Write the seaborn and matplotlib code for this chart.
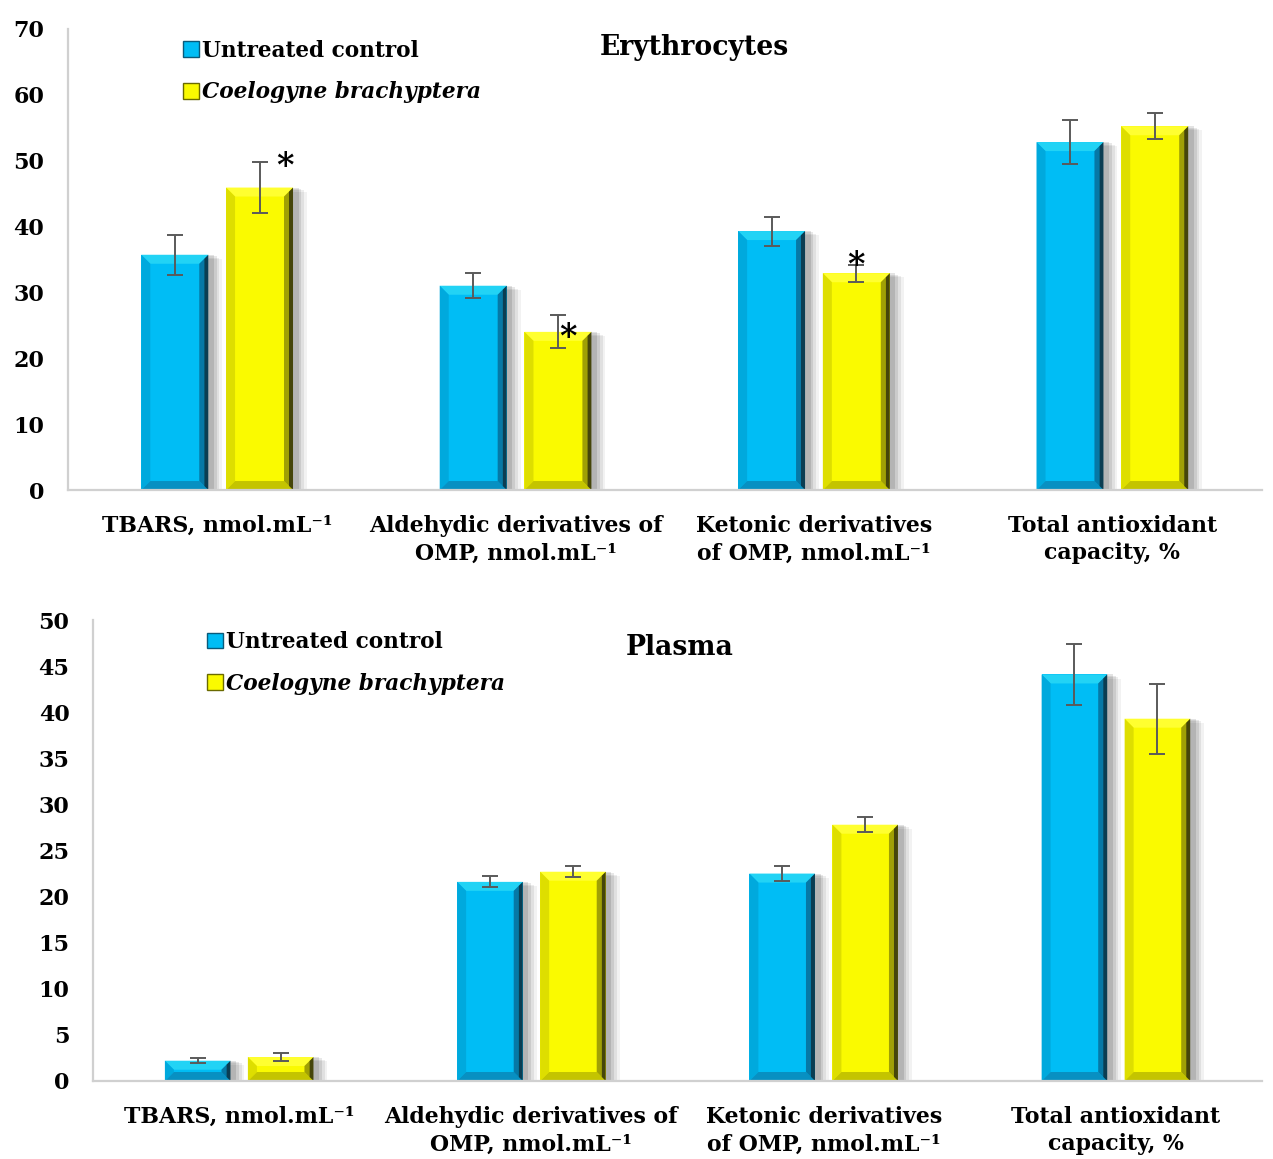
import numpy as np
import pandas as pd
import matplotlib
matplotlib.use("Agg")
import matplotlib.pyplot as plt
import matplotlib.patheffects as pe
from matplotlib.patches import Polygon, Patch
import seaborn as sns

# ---- data -------------------------------------------------------------
SUP = "\u207b\u00b9"
categories = [
    "TBARS, nmol.mL" + SUP,
    "Aldehydic derivatives of\nOMP, nmol.mL" + SUP,
    "Ketonic derivatives\nof OMP, nmol.mL" + SUP,
    "Total antioxidant\ncapacity, %",
]
groups = ["Untreated control", "Coelogyne brachyptera"]

ery_control = [35.7, 31.0, 39.3, 52.8]
ery_control_err = [3.0, 1.9, 2.2, 3.4]
ery_treated = [45.9, 24.0, 32.9, 55.2]
ery_treated_err = [3.9, 2.5, 1.3, 2.0]
ery_significant = [0, 1, 2]          # categories with * on the treated bar

pla_control = [2.2, 21.6, 22.5, 44.1]
pla_control_err = [0.25, 0.6, 0.85, 3.3]
pla_treated = [2.6, 22.7, 27.8, 39.3]
pla_treated_err = [0.45, 0.6, 0.8, 3.8]
pla_significant = []

ery_ticks = [0, 10, 20, 30, 40, 50, 60, 70]
pla_ticks = [0, 5, 10, 15, 20, 25, 30, 35, 40, 45, 50]

# ---- style ------------------------------------------------------------
sns.set_theme(style="white")
plt.rcParams["font.family"] = ["DejaVu Serif"]
plt.rcParams["font.weight"] = "bold"
plt.rcParams["text.color"] = "black"
plt.rcParams["xtick.color"] = "black"
plt.rcParams["ytick.color"] = "black"

BLUE = "#00bdf5"
YELLOW = "#fafa00"
palette = {groups[0]: BLUE, groups[1]: YELLOW}
shade = {
    BLUE: dict(top="#22d3f5", left="#00a9dd", right_in="#0678a6",
               right_out="#0b3d52", bottom="#0890c2"),
    YELLOW: dict(top="#ffff30", left="#dede00", right_in="#a0a005",
                 right_out="#45450a", bottom="#c4c400"),
}
AXIS_GREY = "#d0d0d0"
XFS = 15.8
YFS = 16
LFS = 15.6
TFS = 19.2


def tidy(ctrl, trt):
    return pd.DataFrame({
        "category": categories * 2,
        "group": [groups[0]] * 4 + [groups[1]] * 4,
        "value": list(ctrl) + list(trt),
    })


def bevel_bars(ax, ymax):
    """Give every bar a bevelled, softly shadowed look."""
    bbox = ax.get_window_extent()
    px_x = bbox.width / 4.0
    px_y = bbox.height / ymax
    bev = 9.0
    for patch in list(ax.patches):
        x0, w, h = patch.get_x(), patch.get_width(), patch.get_height()
        fc = BLUE if np.allclose(patch.get_facecolor()[:3],
                                 matplotlib.colors.to_rgb(BLUE)) else YELLOW
        s = shade[fc]
        dx = bev / px_x
        dy = min(bev / px_y, h / 2.0)
        x1 = x0 + w
        patch.set_path_effects([
            pe.SimplePatchShadow(offset=(10, -3), shadow_rgbFace="#000000", alpha=0.05),
            pe.SimplePatchShadow(offset=(8, -2), shadow_rgbFace="#000000", alpha=0.07),
            pe.SimplePatchShadow(offset=(6, -1), shadow_rgbFace="#000000", alpha=0.09),
            pe.SimplePatchShadow(offset=(4, 0), shadow_rgbFace="#000000", alpha=0.11),
            pe.Normal(),
        ])
        patch.set_edgecolor("none")
        xm = x1 - dx * 0.45
        polys = [
            ([(x0, h), (x1, h), (x1 - dx, h - dy), (x0 + dx, h - dy)], s["top"]),
            ([(x0, 0), (x0, h), (x0 + dx, h - dy), (x0 + dx, dy)], s["left"]),
            ([(x0, 0), (x1, 0), (x1 - dx, dy), (x0 + dx, dy)], s["bottom"]),
            ([(x1 - dx, dy), (x1 - dx, h - dy), (xm, h - dy * 0.45), (xm, dy * 0.45)], s["right_in"]),
            ([(xm, dy * 0.45), (xm, h - dy * 0.45), (x1, h), (x1, 0)], s["right_out"]),
        ]
        for pts, col in polys:
            ax.add_patch(Polygon(pts, closed=True, facecolor=col,
                                 edgecolor="none", zorder=patch.get_zorder() + 0.1))


def panel(fig, rect, ctrl, ctrl_err, trt, trt_err, ymax, ticks, title,
          title_xy, legend_anchor, significant, star_offsets):
    ax = fig.add_axes(rect)
    df = tidy(ctrl, trt)
    sns.barplot(data=df, x="category", y="value", hue="group", palette=palette,
                width=0.568, gap=0.21, errorbar=None, legend=False, ax=ax,
                saturation=1.0, zorder=2)
    ax.set_xlim(-0.5, 3.5)
    ax.set_ylim(0, ymax)
    ax.set_yticks(ticks)
    ax.set_xlabel("")
    ax.set_ylabel("")

    bars = list(ax.patches)
    ctrl_bars, trt_bars = bars[:4], bars[4:8]
    xc = [b.get_x() + b.get_width() / 2 for b in ctrl_bars]
    xt = [b.get_x() + b.get_width() / 2 for b in trt_bars]

    fig.canvas.draw()
    bevel_bars(ax, ymax)

    for xs, ys, es in ((xc, ctrl, ctrl_err), (xt, trt, trt_err)):
        ax.errorbar(xs, ys, yerr=es, fmt="none", ecolor="#5a5a5a",
                    elinewidth=1.4, capsize=6, capthick=1.4, zorder=5)

    for i in significant:
        ox, oy = star_offsets[i]
        ax.text(xt[i] + ox, trt[i] + trt_err[i] + oy, "*", ha="center",
                va="center", fontsize=24, fontweight="bold", color="black",
                zorder=6)

    sns.despine(ax=ax, top=True, right=True)
    for side in ("left", "bottom"):
        ax.spines[side].set_color(AXIS_GREY)
        ax.spines[side].set_linewidth(1.6)
    ax.tick_params(axis="both", length=0)
    ax.tick_params(axis="y", pad=17, labelsize=YFS)
    ax.tick_params(axis="x", pad=18, labelsize=XFS)
    for lab in ax.get_xticklabels():
        lab.set_fontweight("bold")
        lab.set_linespacing(1.32)
        lab.set_color("black")
    for lab in ax.get_yticklabels():
        lab.set_fontweight("bold")
        lab.set_color("black")

    ax.text(title_xy[0], title_xy[1], title, transform=ax.transAxes,
            ha="center", va="center", fontsize=TFS, fontweight="bold")

    handles = [Patch(facecolor=BLUE, edgecolor="#0a5a7a", linewidth=1.0),
               Patch(facecolor=YELLOW, edgecolor="#6a6a00", linewidth=1.0)]
    leg = ax.legend(handles, groups, loc="upper left",
                    bbox_to_anchor=legend_anchor, frameon=False,
                    fontsize=LFS, handlelength=0.75, handleheight=0.75,
                    handletextpad=0.15, labelspacing=0.9, borderaxespad=0)
    for t in leg.get_texts():
        t.set_fontweight("bold")
        t.set_color("black")
    leg.get_texts()[1].set_fontstyle("italic")
    return ax


fig = plt.figure(figsize=(12.73, 11.59), dpi=100)

panel(fig, [0.0534, 0.5772, 0.9376, 0.398],
      ery_control, ery_control_err, ery_treated, ery_treated_err,
      70, ery_ticks, "Erythrocytes", (0.525, 0.959), (0.0888, 0.995),
      ery_significant,
      {0: (0.085, -0.7), 1: (0.033, -3.4), 2: (0.0, -0.2)})

panel(fig, [0.0731, 0.0673, 0.9183, 0.3977],
      pla_control, pla_control_err, pla_treated, pla_treated_err,
      50, pla_ticks, "Plasma", (0.502, 0.941), (0.0898, 0.995),
      pla_significant, {})

fig.savefig("out.png", dpi=100)
